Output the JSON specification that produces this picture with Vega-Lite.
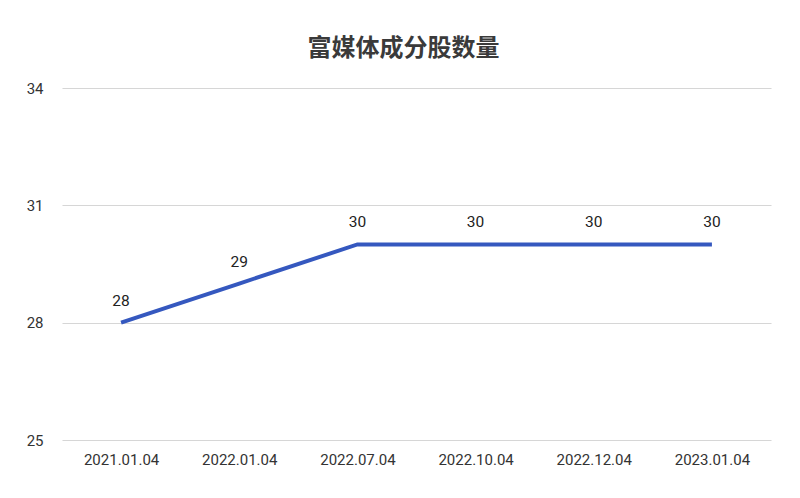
{
  "$schema": "https://vega.github.io/schema/vega-lite/v6.json",
  "autosize": "none",
  "width": 709,
  "height": 352,
  "padding": {"left": 62, "top": 88, "right": 29, "bottom": 58},
  "background": "white",
  "title": {
    "text": "富媒体成分股数量",
    "fontSize": 24,
    "font": "Noto Sans CJK SC",
    "fontWeight": "bold",
    "color": "#3a3a3a",
    "anchor": "middle",
    "dx": -13,
    "offset": 20
  },
  "data": {
    "values": [
      {"date": "2021.01.04", "count": 28},
      {"date": "2022.01.04", "count": 29},
      {"date": "2022.07.04", "count": 30},
      {"date": "2022.10.04", "count": 30},
      {"date": "2022.12.04", "count": 30},
      {"date": "2023.01.04", "count": 30}
    ]
  },
  "encoding": {
    "x": {
      "field": "date",
      "type": "ordinal",
      "sort": null,
      "scale": {"type": "point", "padding": 0.5},
      "axis": {
        "title": null,
        "labelAngle": 0,
        "ticks": false,
        "domain": false,
        "grid": false,
        "labelFontSize": 15,
        "labelColor": "#333333",
        "labelFont": "Roboto",
        "labelPadding": 12
      }
    },
    "y": {
      "field": "count",
      "type": "quantitative",
      "scale": {"domain": [25, 34], "nice": false, "zero": false},
      "axis": {
        "title": null,
        "values": [25, 28, 31, 34],
        "ticks": false,
        "domain": false,
        "gridColor": "#d6d6d6",
        "gridWidth": 1.2,
        "labelFontSize": 15,
        "labelColor": "#333333",
        "labelFont": "Roboto",
        "labelPadding": 19
      }
    }
  },
  "layer": [
    {
      "mark": {"type": "line", "color": "#3558bf", "strokeWidth": 4}
    },
    {
      "mark": {"type": "text", "dy": -22, "fontSize": 15.5, "font": "Roboto", "color": "#222222"},
      "encoding": {"text": {"field": "count", "type": "quantitative"}}
    }
  ],
  "config": {"view": {"stroke": null}}
}
